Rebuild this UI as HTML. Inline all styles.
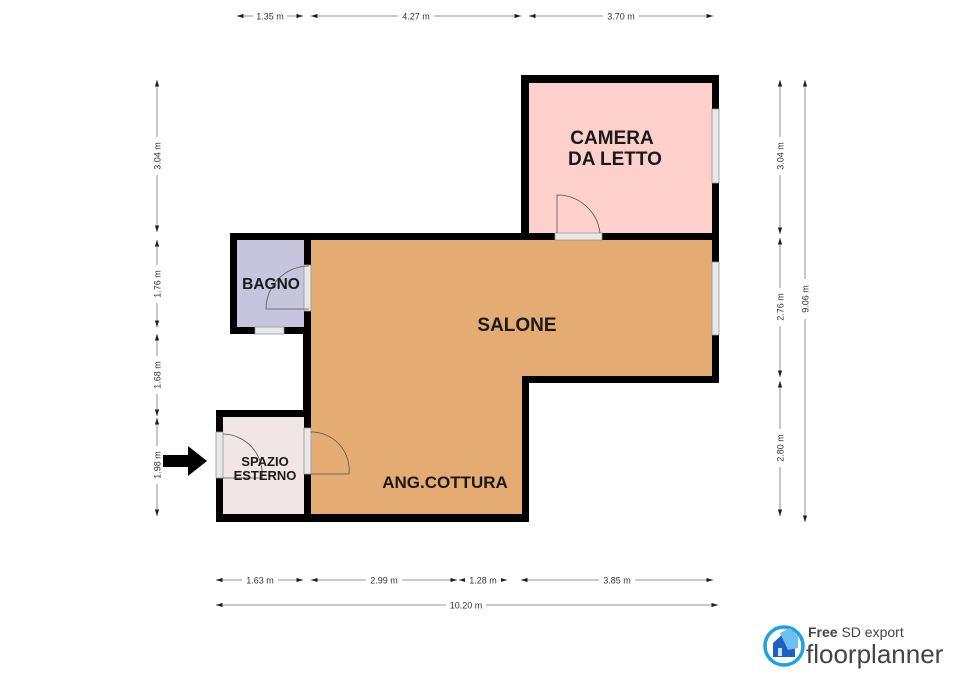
<!DOCTYPE html>
<html><head><meta charset="utf-8"><style>
html,body{margin:0;padding:0;background:#fff;}
svg{display:block;font-family:"Liberation Sans",Arial,sans-serif;}
.d{stroke:#aaa;stroke-width:1.3;fill:none}
.t{font-size:9px;fill:#333}
.r{font-weight:bold;fill:#1a1a1a}
.win{fill:#e8e8e8;stroke:#999;stroke-width:0.8}
.arc{fill:none;stroke:#555;stroke-width:0.8}
</style></head><body>
<svg width="960" height="679" viewBox="0 0 960 679" xmlns="http://www.w3.org/2000/svg">
<defs>
<marker id="a" viewBox="0 0 6 6" refX="6" refY="3" markerWidth="5" markerHeight="5" orient="auto-start-reverse"><path d="M0,1 L6,3 L0,5z" fill="#222"/></marker>
</defs>
<rect x="521" y="75" width="198" height="165" fill="#000"/>
<rect x="529" y="83" width="183" height="150" fill="#fdd0cb"/>
<polygon points="303,233 719,233 719,383 529,383 529,522 303,522" fill="#000"/>
<polygon points="311,240 712,240 712,376 522,376 522,514 311,514" fill="#e4ab73"/>
<rect x="230" y="233" width="80" height="101" fill="#000"/>
<rect x="237" y="240" width="67" height="87" fill="#c6c5dd"/>
<rect x="216" y="410" width="94" height="112" fill="#000"/>
<rect x="223" y="417" width="81" height="97" fill="#f1e5e5"/>
<rect class="win" x="712" y="109" width="7" height="74"/>
<rect class="win" x="712" y="262" width="7" height="73"/>
<rect class="win" x="555" y="233" width="47" height="7"/>
<rect class="win" x="304" y="265" width="7" height="46"/>
<rect class="win" x="255" y="327" width="29" height="7"/>
<rect class="win" x="216" y="432" width="7" height="46"/>
<rect class="win" x="304" y="428" width="7" height="46"/>
<path class="arc" d="M557,233 L557,195 A43,43 0 0 1 600,233"/>
<path class="arc" d="M309,309 L266,309 A43,43 0 0 1 309,266"/>
<path class="arc" d="M311,474 L349,474 A38,38 0 0 0 311,432"/>
<path class="arc" d="M223,478 L262,478 A40,40 0 0 0 223,434"/>
<text class="r" x="612" y="144" font-size="19" text-anchor="middle">CAMERA</text>
<text class="r" x="615" y="165" font-size="19" text-anchor="middle">DA LETTO</text>
<text class="r" x="517" y="331" font-size="19" text-anchor="middle">SALONE</text>
<text class="r" x="445" y="488" font-size="17" text-anchor="middle">ANG.COTTURA</text>
<text class="r" x="271" y="289" font-size="15.5" text-anchor="middle">BAGNO</text>
<text class="r" x="265" y="466" font-size="13" text-anchor="middle">SPAZIO</text>
<text class="r" x="265" y="480" font-size="13" text-anchor="middle">ESTERNO</text>
<polygon points="163,455 188,455 188,446 207,461 188,476 188,467 163,467" fill="#000"/>
<g>
<line class="d" x1="237" y1="16" x2="303" y2="16" marker-start="url(#a)" marker-end="url(#a)"/>
<line class="d" x1="311" y1="16" x2="521" y2="16" marker-start="url(#a)" marker-end="url(#a)"/>
<line class="d" x1="529" y1="16" x2="713" y2="16" marker-start="url(#a)" marker-end="url(#a)"/>
<rect x="253" y="10" width="34" height="12" fill="#fff"/><text class="t" x="270" y="19.5" text-anchor="middle">1.35 m</text>
<rect x="398" y="10" width="36" height="12" fill="#fff"/><text class="t" x="416" y="19.5" text-anchor="middle">4.27 m</text>
<rect x="603" y="10" width="36" height="12" fill="#fff"/><text class="t" x="621" y="19.5" text-anchor="middle">3.70 m</text>
</g>
<g>
<line class="d" x1="216" y1="580" x2="303" y2="580" marker-start="url(#a)" marker-end="url(#a)"/>
<line class="d" x1="311" y1="580" x2="457" y2="580" marker-start="url(#a)" marker-end="url(#a)"/>
<line class="d" x1="459" y1="580" x2="507" y2="580" marker-start="url(#a)" marker-end="url(#a)"/>
<line class="d" x1="521" y1="580" x2="713" y2="580" marker-start="url(#a)" marker-end="url(#a)"/>
<line class="d" x1="216" y1="605" x2="718" y2="605" marker-start="url(#a)" marker-end="url(#a)"/>
<rect x="242" y="574" width="36" height="12" fill="#fff"/><text class="t" x="260" y="583.5" text-anchor="middle">1.63 m</text>
<rect x="366" y="574" width="36" height="12" fill="#fff"/><text class="t" x="384" y="583.5" text-anchor="middle">2.99 m</text>
<rect x="465" y="574" width="36" height="12" fill="#fff"/><text class="t" x="483" y="583.5" text-anchor="middle">1.28 m</text>
<rect x="599" y="574" width="36" height="12" fill="#fff"/><text class="t" x="617" y="583.5" text-anchor="middle">3.85 m</text>
<rect x="446" y="599" width="40" height="12" fill="#fff"/><text class="t" x="466" y="608.5" text-anchor="middle">10.20 m</text>
</g>
<g>
<line class="d" x1="157" y1="80" x2="157" y2="232" marker-start="url(#a)" marker-end="url(#a)"/>
<line class="d" x1="157" y1="240" x2="157" y2="327" marker-start="url(#a)" marker-end="url(#a)"/>
<line class="d" x1="157" y1="334" x2="157" y2="416" marker-start="url(#a)" marker-end="url(#a)"/>
<line class="d" x1="157" y1="418" x2="157" y2="516" marker-start="url(#a)" marker-end="url(#a)"/>
<rect x="151" y="137" width="12" height="38" fill="#fff"/><text class="t" transform="translate(160.5,156) rotate(-90)" text-anchor="middle">3.04 m</text>
<rect x="151" y="265" width="12" height="38" fill="#fff"/><text class="t" transform="translate(160.5,284) rotate(-90)" text-anchor="middle">1.76 m</text>
<rect x="151" y="356" width="12" height="38" fill="#fff"/><text class="t" transform="translate(160.5,375) rotate(-90)" text-anchor="middle">1.68 m</text>
<rect x="151" y="446" width="12" height="38" fill="#fff"/><text class="t" transform="translate(160.5,465) rotate(-90)" text-anchor="middle">1.98 m</text>
</g>
<g>
<line class="d" x1="780" y1="80" x2="780" y2="234" marker-start="url(#a)" marker-end="url(#a)"/>
<line class="d" x1="780" y1="238" x2="780" y2="377" marker-start="url(#a)" marker-end="url(#a)"/>
<line class="d" x1="780" y1="381" x2="780" y2="516" marker-start="url(#a)" marker-end="url(#a)"/>
<line class="d" x1="805" y1="80" x2="805" y2="522" marker-start="url(#a)" marker-end="url(#a)"/>
<rect x="774" y="137" width="12" height="38" fill="#fff"/><text class="t" transform="translate(783.5,156) rotate(-90)" text-anchor="middle">3.04 m</text>
<rect x="774" y="288" width="12" height="38" fill="#fff"/><text class="t" transform="translate(783.5,307) rotate(-90)" text-anchor="middle">2.76 m</text>
<rect x="774" y="429" width="12" height="38" fill="#fff"/><text class="t" transform="translate(783.5,448) rotate(-90)" text-anchor="middle">2.80 m</text>
<rect x="799" y="279" width="12" height="40" fill="#fff"/><text class="t" transform="translate(808.5,299) rotate(-90)" text-anchor="middle">9.06 m</text>
</g>
<circle cx="784" cy="646" r="19" fill="none" stroke="#1aa3e8" stroke-width="3.5"/>
<polygon points="773,643 784,633 795,643 795,657 773,657" fill="#1e5fc6"/>
<polygon points="780,633 790,628 798,636 798,648 788,650" fill="#6fc0f0"/>
<rect x="778" y="648" width="4" height="8" fill="#bfe3fb"/>
<text x="808" y="637" font-size="14" fill="#444"><tspan font-weight="bold">Free</tspan> SD export</text>
<text x="806" y="663" font-size="26" fill="#444">floorplanner</text>
</svg>
</body></html>
